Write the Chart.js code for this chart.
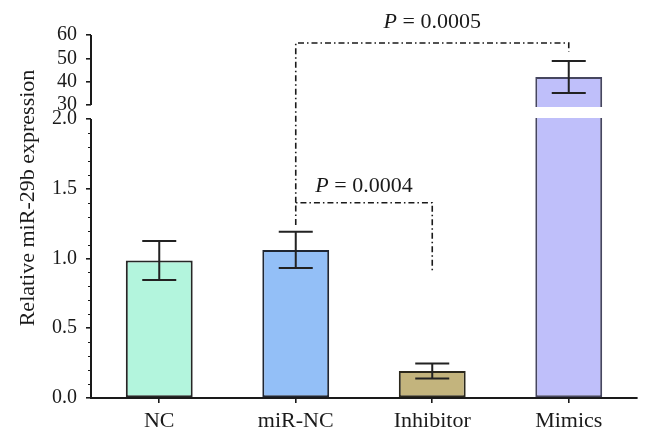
<!DOCTYPE html>
<html>
<head>
<meta charset="utf-8">
<script src="https://cdn.jsdelivr.net/npm/chart.js@4"></script>
<style>
  html, body { margin: 0; padding: 0; background: #fff; }
  #wrap { width: 651px; height: 440px; }
</style>
</head>
<body>
<div id="wrap"><canvas id="myChart" width="651" height="440"></canvas></div>
<script>
const categories = ["NC", "miR-NC", "Inhibitor", "Mimics"];
const means = [0.985, 1.061, 0.194, 42];
const errors = [0.14, 0.13, 0.054, 6.9];
const fillColors = ["#b3f5dd", "#93bff7", "#c3b47d", "#bfbffa"];
const edgeColors = ["#262626", "#1f2633", "#2b281c", "#46465f"];
const lowerTicks = [0, 0.5, 1.0, 1.5, 2.0];
const upperTicks = [30, 40, 50, 60];
const minorStep = 0.1;

// bracket ends given as [axis, value]
const brackets = [
  { from: 1, to: 2, top: ["yLow", 1.40], leftEnd: ["yLow", 1.24], rightEnd: ["yLow", 0.90], textAt: ["yLow", 1.48], text: "0.0004" },
  { from: 1, to: 3, top: ["yHigh", 56.6], leftEnd: ["yLow", 1.40], rightEnd: ["yHigh", 52.8], textAt: ["yHigh", 63.2], text: "0.0005" },
];

const lowMax = lowerTicks[lowerTicks.length - 1];
const serif = "'Liberation Serif', 'Times New Roman', serif";
const ink = "#1a1a1a";

const clipToAxis = {
  id: "clipToAxis",
  beforeDatasetDraw(chart, args) {
    const ys = chart.scales[args.meta.yAxisID];
    const ctx = chart.ctx;
    let top, bottom;
    if (args.meta.yAxisID === "yHigh") {
      top = 0;
      bottom = ys.getPixelForValue(upperTicks[0]) + 2;
    } else {
      top = ys.getPixelForValue(lowMax) - 1;
      bottom = chart.height;
    }
    ctx.save();
    ctx.beginPath();
    ctx.rect(0, top, chart.width, bottom - top);
    ctx.clip();
  },
  afterDatasetDraw(chart) {
    chart.ctx.restore();
  },
};

const extras = {
  id: "extras",
  afterDraw(chart) {
    const ctx = chart.ctx;
    const xs = chart.scales.x;
    const yLow = chart.scales.yLow;
    const yHigh = chart.scales.yHigh;
    const py = (ref) => chart.scales[ref[0]].getPixelForValue(ref[1]);

    ctx.save();
    // broken y axis lines
    ctx.strokeStyle = ink;
    ctx.lineWidth = 2;
    ctx.beginPath();
    ctx.moveTo(yLow.right, yLow.getPixelForValue(0) + 1);
    ctx.lineTo(yLow.right, yLow.getPixelForValue(lowMax));
    ctx.moveTo(yHigh.right, yHigh.getPixelForValue(upperTicks[0]));
    ctx.lineTo(yHigh.right, yHigh.getPixelForValue(upperTicks[upperTicks.length - 1]));
    ctx.stroke();

    // minor ticks on the lower axis
    ctx.lineWidth = 1.2;
    ctx.beginPath();
    for (let k = 1; k * minorStep < lowMax; k++) {
      if (k % 5 === 0) continue;
      const y = Math.round(yLow.getPixelForValue(k * minorStep)) + 0.5;
      ctx.moveTo(yLow.right - 3, y);
      ctx.lineTo(yLow.right, y);
    }
    ctx.stroke();

    // error bars
    ctx.lineWidth = 2;
    ctx.strokeStyle = "#222";
    means.forEach((v, i) => {
      const ys = v > lowMax ? yHigh : yLow;
      const x = xs.getPixelForValue(i);
      const t = ys.getPixelForValue(v + errors[i]);
      const b = ys.getPixelForValue(v - errors[i]);
      ctx.beginPath();
      ctx.moveTo(x, t); ctx.lineTo(x, b);
      ctx.moveTo(x - 17, t); ctx.lineTo(x + 17, t);
      ctx.moveTo(x - 17, b); ctx.lineTo(x + 17, b);
      ctx.stroke();
    });

    // significance brackets
    brackets.forEach((br) => {
      const x1 = xs.getPixelForValue(br.from);
      const x2 = xs.getPixelForValue(br.to);
      const yt = py(br.top);
      ctx.save();
      ctx.strokeStyle = ink;
      ctx.lineWidth = 1.6;
      ctx.setLineDash([6, 3, 1.5, 3]);
      ctx.beginPath();
      ctx.moveTo(x1, py(br.leftEnd));
      ctx.lineTo(x1, yt);
      ctx.lineTo(x2, yt);
      ctx.lineTo(x2, py(br.rightEnd));
      ctx.stroke();
      ctx.restore();

      const pPart = "P";
      const rest = " = " + br.text;
      ctx.fillStyle = ink;
      ctx.textBaseline = "alphabetic";
      ctx.textAlign = "left";
      ctx.font = "italic 22px " + serif;
      const w1 = ctx.measureText(pPart).width;
      ctx.font = "22px " + serif;
      const w2 = ctx.measureText(rest).width;
      const start = (x1 + x2) / 2 - (w1 + w2) / 2;
      const ty = py(br.textAt);
      ctx.font = "italic 22px " + serif;
      ctx.fillText(pPart, start, ty);
      ctx.font = "22px " + serif;
      ctx.fillText(rest, start + w1, ty);
    });

    // y axis title
    ctx.translate(28, 198);
    ctx.rotate(-Math.PI / 2);
    ctx.textAlign = "center";
    ctx.textBaseline = "middle";
    ctx.font = "22px " + serif;
    ctx.fillStyle = ink;
    ctx.fillText("Relative miR-29b expression", 0, 0);
    ctx.restore();
  },
};

const yCommon = {
  type: "linear",
  position: "left",
  stack: "broken",
  bounds: "data",
  border: { display: false },
  grid: { display: true, drawOnChartArea: false, drawTicks: true, tickLength: 5, color: ink, lineWidth: 1.6 },
  afterFit: (scale) => { scale.width = 91; },
};

const ctx = document.getElementById("myChart").getContext("2d");

const myChart = new Chart(ctx, {
  type: "bar",
  data: {
    labels: categories,
    datasets: [
      {
        label: "low",
        data: means,
        yAxisID: "yLow",
        backgroundColor: fillColors,
        borderColor: edgeColors,
        borderWidth: 2,
        borderSkipped: false,
        grouped: false,
        barPercentage: 0.49,
        categoryPercentage: 1.0,
      },
      {
        label: "high",
        data: means.map((v) => (v > lowMax ? v : null)),
        yAxisID: "yHigh",
        backgroundColor: fillColors,
        borderColor: edgeColors,
        borderWidth: 2,
        borderSkipped: "start",
        grouped: false,
        barPercentage: 0.49,
        categoryPercentage: 1.0,
      },
    ],
  },
  options: {
    responsive: false,
    animation: false,
    layout: { padding: { top: 35, right: 14, left: 0, bottom: 0 } },
    scales: {
      x: {
        type: "category",
        border: { display: true, color: ink, width: 2 },
        grid: { display: true, offset: false, drawOnChartArea: false, drawTicks: true, tickLength: 5, color: ink, lineWidth: 1.6 },
        ticks: { color: ink, font: { family: serif, size: 22 }, padding: 5, maxRotation: 0, autoSkip: false },
        afterFit: (scale) => { scale.height = 42; },
      },
      yLow: {
        ...yCommon,
        min: 0,
        max: 2.05,
        stackWeight: 286,
        afterBuildTicks: (scale) => { scale.ticks = lowerTicks.map((v) => ({ value: v })); },
        ticks: { color: ink, font: { family: serif, size: 20 }, padding: 9, autoSkip: false, callback: (v) => Number(v).toFixed(1) },
      },
      yHigh: {
        ...yCommon,
        min: 27,
        max: 60,
        stackWeight: 77,
        afterBuildTicks: (scale) => { scale.ticks = upperTicks.map((v) => ({ value: v })); },
        ticks: { color: ink, font: { family: serif, size: 20 }, padding: 9, autoSkip: false, callback: (v) => String(v) },
      },
    },
    plugins: {
      legend: { display: false },
      tooltip: { enabled: false },
    },
  },
  plugins: [clipToAxis, extras],
});
</script>
</body>
</html>
